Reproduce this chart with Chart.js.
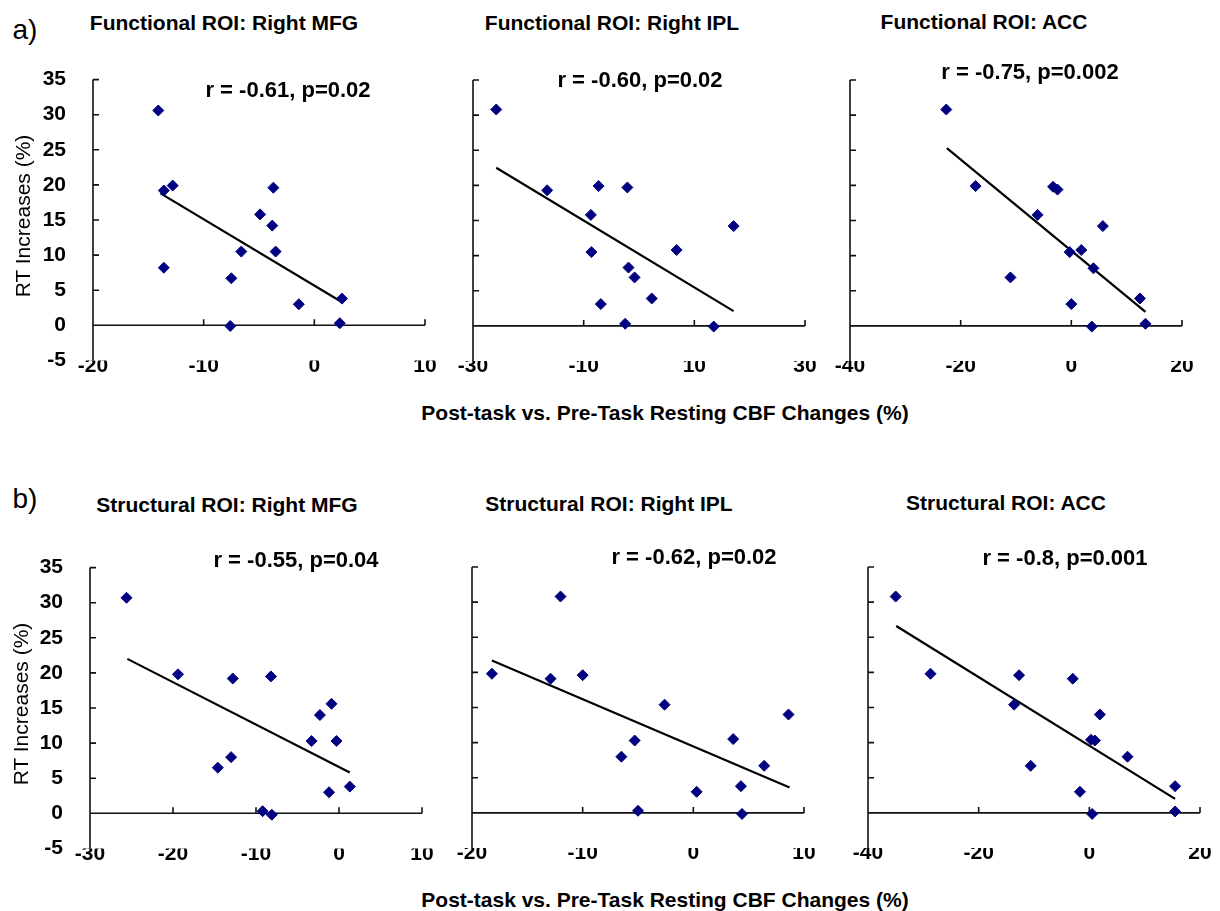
<!DOCTYPE html>
<html>
<head>
<meta charset="utf-8">
<script src="https://cdn.jsdelivr.net/npm/chart.js@4.4.1/dist/chart.umd.min.js"></script>
<style>
  body { margin: 0; background: #fff; }
  #page { position: relative; width: 1220px; height: 911px; font-family: "Liberation Sans", Arial, sans-serif; color: #000; }
  .txt { position: absolute; transform: translate(-50%, -50%); white-space: nowrap; }
  .title, .xlab { font-weight: bold; font-size: 21px; }
  .stat { font-weight: bold; font-size: 22px; }
  .ylab { font-size: 21px; transform: translate(-50%, -50%) rotate(-90deg); }
  .tag { font-size: 28px; }
  canvas { position: absolute; }
</style>
</head>
<body>
<div id="page"></div>
<script>
// values (x = CBF change %, y = RT increase %)
const funcMfgX = [-14.1, -13.6, -12.8, -13.6, -3.7, -4.9, -3.8, -6.6, -3.5, -7.5, -7.6, -1.4, 2.5, 2.3];
const funcMfgY = [30.6, 19.2, 19.9, 8.2, 19.6, 15.8, 14.2, 10.5, 10.5, 6.7, -0.1, 3.0, 3.8, 0.3];
const funcMfgFitX = [-13.9, 2.4];
const funcMfgFitY = [18.8, 3.4];

const funcIplX = [-25.8, -16.6, -7.3, -2.1, -8.7, 17.1, -8.6, 6.8, -1.9, -0.8, 2.3, -6.9, -2.5, 13.5];
const funcIplY = [30.8, 19.3, 19.9, 19.7, 15.8, 14.2, 10.5, 10.8, 8.3, 6.9, 3.9, 3.1, 0.3, -0.1];
const funcIplFitX = [-25.8, 17.1];
const funcIplFitY = [22.5, 2.1];

const funcAccX = [-22.6, -17.3, -3.3, -2.5, -6.1, 5.7, -0.3, 1.8, 4.0, -11.0, 0.0, 12.4, 13.4, 3.7];
const funcAccY = [30.8, 19.9, 19.8, 19.4, 15.8, 14.2, 10.5, 10.8, 8.2, 6.9, 3.1, 3.9, 0.3, -0.1];
const funcAccFitX = [-22.5, 13.4];
const funcAccFitY = [25.3, 2.0];

const strMfgX = [-25.6, -19.4, -12.8, -8.2, -0.9, -2.3, -3.3, -0.3, -13.0, -14.6, -1.2, 1.3, -9.2, -8.1];
const strMfgY = [30.7, 19.8, 19.2, 19.5, 15.6, 14.0, 10.3, 10.3, 8.0, 6.5, 3.0, 3.8, 0.3, -0.2];
const strMfgFitX = [-25.5, 1.3];
const strMfgFitY = [22.0, 5.8];

const strIplX = [-18.2, -12.0, -12.9, -10.0, -2.6, 8.6, -5.3, 3.6, -6.5, 6.4, 0.3, 4.3, -5.0, 4.4];
const strIplY = [19.8, 30.8, 19.1, 19.6, 15.4, 14.0, 10.3, 10.5, 8.0, 6.7, 3.0, 3.8, 0.3, -0.15];
const strIplFitX = [-18.2, 8.7];
const strIplFitY = [21.7, 3.6];

const strAccX = [-35.0, -28.7, -12.7, -3.0, -13.6, 1.9, 0.3, 1.0, 6.9, -10.6, -1.7, 15.5, 15.5, 0.5];
const strAccY = [30.8, 19.8, 19.6, 19.1, 15.4, 14.0, 10.4, 10.3, 8.0, 6.7, 3.0, 3.8, 0.2, -0.15];
const strAccFitX = [-34.9, 15.5];
const strAccFitY = [26.6, 2.0];

// axis ranges
const xMins = [-20, -30, -40, -30, -20, -40];
const xMaxs = [10, 30, 20, 10, 10, 20];
const xSteps = [10, 20, 20, 10, 10, 20];
const yMin = -5, yMax = 35, yStep = 5;

const titles = ['Functional ROI: Right MFG', 'Functional ROI: Right IPL', 'Functional ROI: ACC',
                'Structural ROI: Right MFG', 'Structural ROI: Right IPL', 'Structural ROI: ACC'];
const stats = ['r = -0.61, p=0.02', 'r = -0.60, p=0.02', 'r = -0.75, p=0.002',
               'r = -0.55, p=0.04', 'r = -0.62, p=0.02', 'r = -0.8, p=0.001'];
const xTitle = 'Post-task vs. Pre-Task Resting CBF Changes (%)';
const yTitle = 'RT Increases (%)';

const xs = [funcMfgX, funcIplX, funcAccX, strMfgX, strIplX, strAccX];
const ys = [funcMfgY, funcIplY, funcAccY, strMfgY, strIplY, strAccY];
const fitXs = [funcMfgFitX, funcIplFitX, funcAccFitX, strMfgFitX, strIplFitX, strAccFitX];
const fitYs = [funcMfgFitY, funcIplFitY, funcAccFitY, strMfgFitY, strIplFitY, strAccFitY];

// layout: plot area top-left corner of each panel, and text anchors
const plotLeft = [93, 473, 850, 90, 472, 868];
const plotTop = [80, 80, 80, 568, 567, 567];
const plotW = 332, plotH = 281;
const titlePos = [[224, 23], [612, 23], [984, 22], [227, 505], [609, 504], [1006, 503]];
const statPos = [[288, 90], [640, 80], [1030, 72], [296, 560], [694, 557], [1065, 558]];

const page = document.getElementById('page');
function addText(cls, text, x, y) {
    const d = document.createElement('div');
    d.className = 'txt ' + cls;
    d.textContent = text;
    d.style.left = x + 'px';
    d.style.top = y + 'px';
    page.appendChild(d);
}

// Excel style axes: y line at left, x line through zero, tick marks pointing inward
const excelAxes = {
    id: 'excelAxes',
    beforeDatasetsDraw(chart) {
        const {ctx, chartArea: a, scales: {x, y}} = chart;
        const y0 = y.getPixelForValue(0);
        ctx.save();
        ctx.strokeStyle = '#111';
        ctx.lineWidth = 1.6;
        ctx.beginPath();
        ctx.moveTo(a.left, a.top);
        ctx.lineTo(a.left, a.bottom);
        ctx.moveTo(a.left, y0);
        ctx.lineTo(a.right, y0);
        y.ticks.forEach(t => {
            if (t.value === y.min || t.value === 0) return;
            const p = y.getPixelForValue(t.value);
            ctx.moveTo(a.left, p);
            ctx.lineTo(a.left + 6, p);
        });
        x.ticks.forEach(t => {
            if (t.value === x.min) return;
            const p = x.getPixelForValue(t.value);
            ctx.moveTo(p, y0);
            ctx.lineTo(p, y0 - 6);
        });
        ctx.stroke();
        ctx.restore();
    }
};

const tickFont = {family: '"Liberation Sans", Arial, sans-serif', size: 21, weight: 'bold'};

function makeChart(i, h) {
    const canvas = document.createElement('canvas');
    canvas.width = 60 + plotW + 20;
    canvas.height = h;
    page.appendChild(canvas);

    const pts = xs[i].map((v, k) => ({x: v, y: ys[i][k]}));
    const fit = fitXs[i].map((v, k) => ({x: v, y: fitYs[i][k]}));
    const leftCol = (i === 0 || i === 3);

    const chart = new Chart(canvas, {
        type: 'scatter',
        data: {
            datasets: [{
                data: pts,
                pointStyle: 'rectRot',
                pointRadius: 5.5,
                backgroundColor: '#000080',
                borderColor: '#000080',
                borderWidth: 1
            }, {
                type: 'line',
                data: fit,
                borderColor: '#000',
                borderWidth: 2.2,
                pointRadius: 0,
                fill: false
            }]
        },
        options: {
            responsive: false,
            animation: false,
            layout: {padding: {top: 14, right: 20, left: 0, bottom: 0}},
            plugins: {legend: {display: false}, tooltip: {enabled: false}},
            scales: {
                x: {
                    type: 'linear',
                    min: xMins[i],
                    max: xMaxs[i],
                    grid: {display: false},
                    border: {display: false},
                    ticks: {stepSize: xSteps[i], autoSkip: false, maxRotation: 0, padding: -15, color: '#000', font: tickFont},
                    afterFit(s) { s.height = 30; }
                },
                y: {
                    min: yMin,
                    max: yMax,
                    grid: {display: false},
                    border: {display: false},
                    ticks: {stepSize: yStep, display: leftCol, padding: 19, color: '#000', font: tickFont},
                    afterFit(s) { s.width = 60; }
                }
            }
        },
        plugins: [excelAxes]
    });
    return {chart, canvas};
}

for (let i = 0; i < 6; i++) {
    // build once, then rebuild with a canvas height that gives the wanted plot height
    let h = 14 + plotH + 30;
    let built = makeChart(i, h);
    const areaH = built.chart.chartArea.bottom - built.chart.chartArea.top;
    if (Math.abs(areaH - plotH) > 0.5) {
        built.chart.destroy();
        built.canvas.remove();
        h = Math.round(h + plotH - areaH);
        built = makeChart(i, h);
    }
    const a = built.chart.chartArea;
    built.canvas.style.left = Math.round(plotLeft[i] - a.left) + 'px';
    built.canvas.style.top = Math.round(plotTop[i] - a.top) + 'px';

    addText('title', titles[i], titlePos[i][0], titlePos[i][1]);
    addText('stat', stats[i], statPos[i][0], statPos[i][1]);
}

addText('tag', 'a)', 25, 30);
addText('tag', 'b)', 25, 499);
addText('ylab', yTitle, 23, 216);
addText('ylab', yTitle, 21, 704);
addText('xlab', xTitle, 665, 413);
addText('xlab', xTitle, 665, 900);
</script>
</body>
</html>
